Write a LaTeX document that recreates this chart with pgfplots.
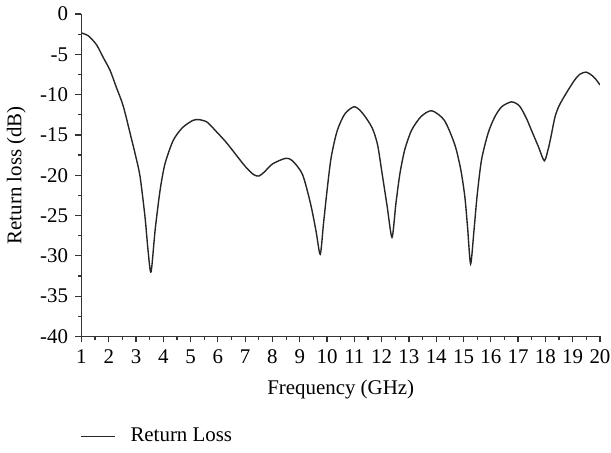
\documentclass[border=0pt]{standalone}
\usepackage{fontspec}
\setmainfont{Liberation Serif}
\usepackage{pgfplots}
\pgfplotsset{compat=1.18}

\begin{document}
\fontsize{10.5}{12.5}\selectfont
\begin{tikzpicture}
\begin{axis}[
    width=260.5pt, height=162pt,
    scale only axis,
    xmin=1, xmax=20, ymin=-40, ymax=0,
    xtick={1,2,...,20},
    ytick={0,-5,...,-40},
    minor x tick num=1,
    minor y tick num=1,
    axis x line*=bottom,
    axis y line*=left,
    tick align=outside,
    major tick length=3pt,
    minor tick length=1.7pt,
    axis line style={black!80, line width=0.6pt},
    every tick/.style={black!80, line width=0.6pt},
    /pgf/number format/assume math mode=true,
    tick label style={font=\fontsize{10.5}{12.5}\selectfont},
    xticklabel style={inner xsep=0.3pt},
    xlabel={Frequency (GHz)},
    ylabel={Return loss (dB)},
    xlabel style={yshift=-1pt},
    legend style={at={(0,-0.31)}, anchor=west, xshift=-4pt, draw=none, fill=none,
        font=\fontsize{10.5}{12.5}\selectfont},
    legend cell align=left,
    legend image code/.code={\draw[#1] (0cm,0cm) -- (0.6cm,0cm); \path (0.8cm,0cm);},
]
\addplot[black!85, line width=0.7pt, smooth, tension=0.45] coordinates {
(1,-2.35) (1.25,-2.7) (1.55,-3.8) (1.8,-5.4) (2.05,-7.0) (2.28,-9.1) (2.53,-11.4)
(2.82,-15.3) (3.0,-17.8) (3.15,-20.2) (3.33,-25.2) (3.44,-29.3) (3.55,-32)
(3.7,-26.8) (3.88,-21.9) (4.06,-18.6) (4.36,-15.7) (4.7,-14.1) (5.08,-13.2)
(5.3,-13.1) (5.6,-13.4) (5.92,-14.5) (6.3,-15.9) (6.65,-17.4) (7.0,-18.9)
(7.3,-19.9) (7.5,-20.1) (7.7,-19.6) (8.0,-18.6) (8.48,-17.9) (8.73,-18.2)
(9.1,-19.9) (9.4,-23.6) (9.6,-27) (9.75,-29.8) (9.87,-26) (10.0,-21.9)
(10.15,-17.8) (10.37,-14.5) (10.65,-12.4) (11.0,-11.5) (11.3,-12.3) (11.65,-14.1)
(11.85,-16.2) (12.0,-19.4) (12.2,-23.8) (12.38,-27.7) (12.52,-23.6) (12.67,-19.8)
(12.85,-16.8) (13.1,-14.4) (13.45,-12.7) (13.84,-12.0) (14.3,-13.2) (14.68,-16.2)
(14.9,-19.3) (15.05,-22.7) (15.15,-26.5) (15.26,-31.0) (15.38,-27) (15.5,-22.5)
(15.66,-18.1) (15.9,-14.8) (16.14,-12.8) (16.4,-11.5) (16.76,-10.9) (17.05,-11.4)
(17.3,-12.9) (17.5,-14.5) (17.75,-16.5) (17.96,-18.2) (18.1,-16.8) (18.2,-15.3)
(18.35,-12.8) (18.5,-11.4) (18.75,-9.9) (19.05,-8.3) (19.25,-7.5) (19.49,-7.2)
(19.7,-7.6) (19.85,-8.1) (20,-8.8)
};
\legend{Return Loss}
\end{axis}
\end{tikzpicture}
\end{document}
